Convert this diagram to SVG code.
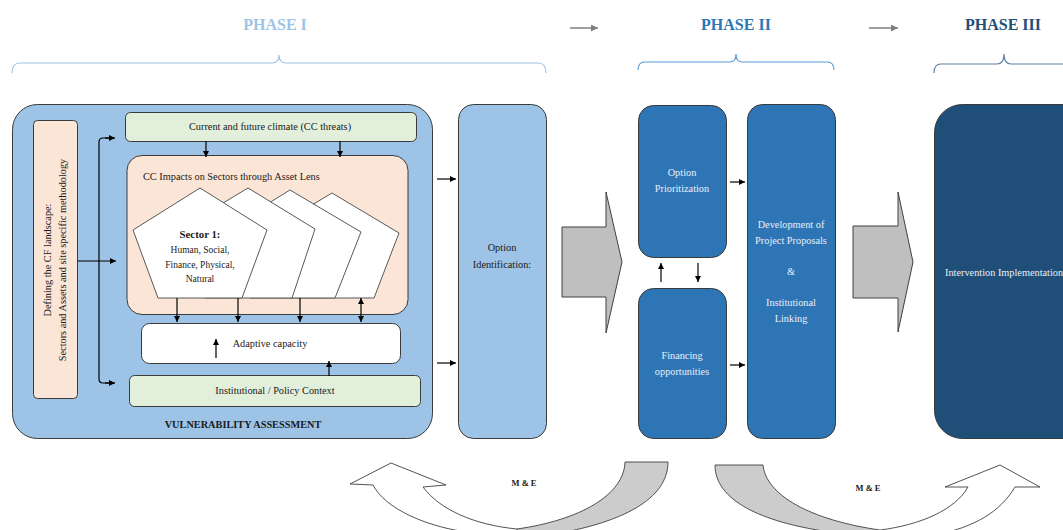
<svg xmlns="http://www.w3.org/2000/svg" width="1063" height="530" viewBox="0 0 1063 530">
<style>
text{font-family:"Liberation Serif","Times New Roman",serif;font-size:10.3px;fill:#1a1a1a}
.c{text-anchor:middle}
.ph{font-size:16px;font-weight:bold;text-anchor:middle}
.w{fill:#E9EFF6}
.s{font-size:9.5px}
.ln{stroke:#000;stroke-width:1.2;fill:none}
.box{stroke:#3a3a3a;stroke-width:1}
.pent{fill:#fff;stroke:#595959;stroke-width:1}
.big{fill:#BFBFBF;stroke:#404040;stroke-width:1}
.me{stroke:#404040;stroke-width:0.9}
</style>
<defs>
<marker id="ah" viewBox="0 0 10 10" refX="10" refY="5" markerWidth="7" markerHeight="6" markerUnits="userSpaceOnUse" orient="auto-start-reverse"><path d="M0,0 L10,5 L0,10 z" fill="#000"/></marker>
<marker id="gh" viewBox="0 0 10 10" refX="10" refY="5" markerWidth="8" markerHeight="7" markerUnits="userSpaceOnUse" orient="auto"><path d="M0,0 L10,5 L0,10 z" fill="#7F7F7F"/></marker>
</defs>

<g id="phase-headers">
<text class="ph" x="275" y="30" style="fill:#9DC3E6">PHASE I</text>
<path d="M12,73 Q12,63 20,63 L272,63 Q279,63 279,55 Q279,63 286,63 L538,63 Q546,63 546,73" fill="none" stroke="#9DC3E6" stroke-width="1.2"/>
<text class="ph" x="736" y="30" style="fill:#2E75B6">PHASE II</text>
<path d="M638,70 Q638,62 645,62 L730,62 Q736,62 736,54 Q736,62 742,62 L827,62 Q834,62 834,70" fill="none" stroke="#5B9BD5" stroke-width="1.2"/>
<text class="ph" x="1003" y="30" style="fill:#1F4E79">PHASE III</text>
<path d="M934,73 Q934,64 941,64 L997,64 Q1004,64 1004,54 Q1004,64 1011,64 L1070,64" fill="none" stroke="#5B7FA6" stroke-width="1.2"/>
<line x1="570" y1="28" x2="598" y2="28" stroke="#7F7F7F" stroke-width="1.5" marker-end="url(#gh)"/>
<line x1="869" y1="28" x2="898" y2="28" stroke="#7F7F7F" stroke-width="1.5" marker-end="url(#gh)"/>
</g>

<g id="vulnerability-assessment">
<rect class="box" x="12.5" y="104.5" width="420" height="334" rx="25" fill="#9DC3E6"/>
<text x="243" y="427.5" class="c" style="font-size:10.3px;font-weight:bold">VULNERABILITY ASSESSMENT</text>
</g>

<g id="defining-landscape">
<rect class="box" x="33.5" y="120.5" width="44" height="278" rx="4" fill="#FBE5D6" stroke="#7f7f7f"/>
<text transform="translate(50.5,260) rotate(-90)" class="c">Defining the CF landscape:</text>
<text transform="translate(66,260) rotate(-90)" class="c">Sectors and Assets and site specific methodology</text>
</g>

<g id="current-climate">
<rect class="box" x="125.5" y="112.5" width="291" height="29" rx="5" fill="#E2EFDA" stroke="#7f7f7f"/>
<text x="270" y="129.5" class="c">Current and future climate (CC threats)</text>
</g>

<g id="cc-impacts">
<rect class="box" x="127" y="155.5" width="281" height="159" rx="15" fill="#FBE5D6" stroke="#7f7f7f"/>
<text x="143" y="179.5">CC Impacts on Sectors through Asset Lens</text>
<polygon class="pent" points="332,193 399,233 374,298 290,298 265,233"/>
<polygon class="pent" points="290,190 361,232 335,298 250,298 222,232"/>
<polygon class="pent" points="248,188 315,229 292,298 205,298 180,229"/>
<polygon class="pent" points="200,188 267,230 242,298 158,298 133,230"/>
<text x="200" y="238" class="c" style="font-weight:bold;font-size:10.8px">Sector 1:</text>
<text x="200" y="252.5" class="c s">Human, Social,</text>
<text x="200" y="267.5" class="c s">Finance, Physical,</text>
<text x="200" y="281.5" class="c s">Natural</text>
</g>

<g id="adaptive-capacity">
<rect class="box" x="141.5" y="323.5" width="259" height="40" rx="8" fill="#fff" stroke="#7f7f7f"/>
<text x="270" y="346.5" class="c">Adaptive capacity</text>
</g>

<g id="institutional-context">
<rect class="box" x="129.5" y="375.5" width="291" height="31" rx="5" fill="#E2EFDA" stroke="#7f7f7f"/>
<text x="275" y="393.5" class="c">Institutional / Policy Context</text>
</g>

<g id="option-identification">
<rect class="box" x="458.5" y="104.5" width="88" height="334" rx="15" fill="#9DC3E6"/>
<text x="502" y="250.5" class="c">Option</text>
<text x="502" y="267.5" class="c">Identification:</text>
</g>

<g id="option-prioritization">
<rect class="box" x="638.5" y="105.5" width="88" height="152" rx="15" fill="#2E75B6" stroke="#1a1a1a"/>
<text x="682" y="175.5" class="c w">Option</text>
<text x="682" y="191.5" class="c w">Prioritization</text>
</g>

<g id="financing-opportunities">
<rect class="box" x="638.5" y="288.5" width="88" height="150" rx="15" fill="#2E75B6" stroke="#1a1a1a"/>
<text x="682" y="358.5" class="c w">Financing</text>
<text x="682" y="374.5" class="c w">opportunities</text>
</g>

<g id="project-proposals">
<rect class="box" x="747.5" y="104.5" width="88" height="334" rx="15" fill="#2E75B6" stroke="#1a1a1a"/>
<text x="791" y="227.5" class="c w">Development of</text>
<text x="791" y="243.5" class="c w">Project Proposals</text>
<text x="791" y="274.5" class="c w">&amp;</text>
<text x="791" y="305.5" class="c w">Institutional</text>
<text x="791" y="321.5" class="c w">Linking</text>
</g>

<g id="intervention-implementation">
<rect class="box" x="934.5" y="104.5" width="160" height="334" rx="28" fill="#1F4E79" stroke="#1a1a1a"/>
<text x="945" y="275.5" class="w">Intervention Implementation</text>
</g>

<g id="phase-arrows">
<path class="big" d="M562,227 L606,227 L606,192 L622,262 L606,333 L606,297 L562,297 Z"/>
<path class="big" d="M853,226 L898,226 L898,192 L913,262 L898,332 L898,298 L853,298 Z"/>
</g>

<g id="monitoring-evaluation">
<path class="me" fill="#CCCCCC" d="M625,462 L668,462 C668,500 620,522 560,533 L560,550 L517,550 L517,529 C580,520 624,495 625,462 Z"/>
<path class="me" fill="#fff" d="M373,485 L350,484 L391,463 L446,485 L423,487 C440,510 475,525 517,529 L517,550 L480,550 L480,534 C425,528 385,508 373,485 Z"/>
<path class="me" fill="#CCCCCC" d="M715,465 L763,465 C766,495 810,520 880,530 L880,550 L830,550 L830,532 C760,522 715,500 715,465 Z"/>
<path class="me" fill="#fff" d="M968,487 L945,487 L1000,465 L1040,487 L1015,487 C1000,512 975,527 935,535 L935,550 L880,550 L880,530 C920,525 955,510 968,487 Z"/>
<text x="524" y="486" class="c" style="font-size:8.5px;font-weight:bold">M &amp; E</text>
<text x="868" y="491" class="c" style="font-size:8.5px;font-weight:bold">M &amp; E</text>
</g>

<g id="connectors">
<path class="ln" d="M78,261 L116,261" marker-end="url(#ah)"/>
<path class="ln" d="M114,138 L103,138 Q99,138 99,142 L99,379 Q99,383 103,383 L114,383"/>
<path class="ln" d="M105,138 L115,138" marker-end="url(#ah)"/>
<path class="ln" d="M105,383 L115,383" marker-end="url(#ah)"/>
<path class="ln" d="M206,141 L206,157" marker-end="url(#ah)"/>
<path class="ln" d="M340,141 L340,157" marker-end="url(#ah)"/>
<path class="ln" d="M177,298 L177,322" marker-end="url(#ah)"/>
<path class="ln" d="M238,298 L238,322" marker-end="url(#ah)"/>
<path class="ln" d="M300,298 L300,322" marker-end="url(#ah)"/>
<path class="ln" d="M361,298 L361,322" marker-start="url(#ah)" marker-end="url(#ah)"/>
<path class="ln" d="M216,358 L216,339" marker-end="url(#ah)"/>
<path class="ln" d="M329,376 L329,361" marker-end="url(#ah)"/>
<path class="ln" d="M437,179 L456,179" marker-end="url(#ah)"/>
<path class="ln" d="M437,363 L456,363" marker-end="url(#ah)"/>
<path class="ln" d="M661,282 L661,263" marker-end="url(#ah)"/>
<path class="ln" d="M698,263 L698,282" marker-end="url(#ah)"/>
<path class="ln" d="M730,182 L745,182" marker-end="url(#ah)"/>
<path class="ln" d="M730,365 L745,365" marker-end="url(#ah)"/>
</g>
</svg>
